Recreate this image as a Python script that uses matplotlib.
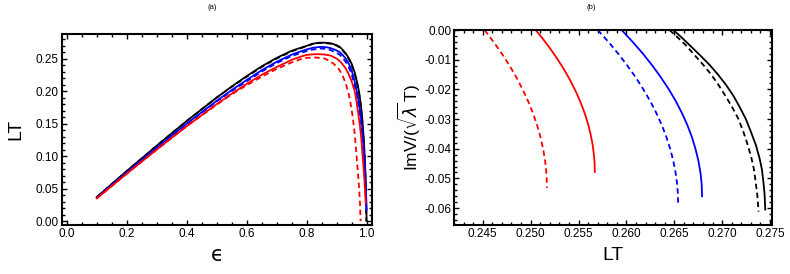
import matplotlib
matplotlib.use("Agg")
import matplotlib.pyplot as plt
from matplotlib.ticker import MultipleLocator, FormatStrFormatter

plt.rcParams['font.family'] = ['Liberation Sans', 'DejaVu Sans']
plt.rcParams['mathtext.fontset'] = 'dejavusans'

# ---------- panel (a): LT vs epsilon ----------
eps_black = [0.1, 0.2, 0.3, 0.4, 0.5, 0.55, 0.6, 0.65, 0.7, 0.75, 0.78, 0.8, 0.82, 0.84, 0.855, 0.87, 0.88, 0.9, 0.91, 0.92, 0.93, 0.94, 0.95, 0.96, 0.965, 0.97, 0.975, 0.98, 0.985, 0.99, 0.993, 0.995, 0.997, 0.998, 0.999, 1.0]
lt_black = [0.037, 0.077, 0.116, 0.154, 0.190, 0.207, 0.223, 0.238, 0.251, 0.262, 0.2665, 0.2695, 0.2728, 0.2743, 0.2745, 0.274, 0.2735, 0.2705, 0.268, 0.2635, 0.258, 0.251, 0.242, 0.229, 0.220, 0.210, 0.198, 0.182, 0.160, 0.130, 0.105, 0.085, 0.060, 0.040, 0.020, 0.0]

eps_black_d = [0.1, 0.2, 0.3, 0.4, 0.5, 0.55, 0.6, 0.65, 0.7, 0.75, 0.78, 0.8, 0.82, 0.84, 0.86, 0.88, 0.9, 0.91, 0.92, 0.93, 0.94, 0.95, 0.96, 0.965, 0.97, 0.975, 0.98, 0.985, 0.99, 0.993, 0.995, 0.997, 0.998, 0.999]
lt_black_d = [0.037, 0.077, 0.116, 0.154, 0.190, 0.2065, 0.222, 0.237, 0.250, 0.261, 0.266, 0.269, 0.2725, 0.2739, 0.2738, 0.2728, 0.2698, 0.267, 0.2625, 0.257, 0.2495, 0.240, 0.227, 0.218, 0.207, 0.195, 0.178, 0.156, 0.126, 0.102, 0.080, 0.055, 0.035, 0.0]

eps_blue = [0.1, 0.2, 0.3, 0.4, 0.5, 0.55, 0.6, 0.65, 0.7, 0.75, 0.78, 0.8, 0.82, 0.845, 0.865, 0.88, 0.895, 0.91, 0.92, 0.93, 0.94, 0.95, 0.96, 0.965, 0.97, 0.975, 0.98, 0.985, 0.99, 0.993, 0.995, 0.998, 1.0]
lt_blue = [0.036, 0.075, 0.113, 0.150, 0.185, 0.2015, 0.217, 0.232, 0.245, 0.256, 0.261, 0.264, 0.2665, 0.2679, 0.2675, 0.266, 0.2635, 0.260, 0.2555, 0.250, 0.2425, 0.232, 0.2155, 0.205, 0.193, 0.180, 0.164, 0.145, 0.115, 0.093, 0.075, 0.045, 0.017]

eps_blue_d = [0.1, 0.2, 0.3, 0.4, 0.5, 0.55, 0.6, 0.65, 0.7, 0.75, 0.78, 0.8, 0.82, 0.845, 0.865, 0.88, 0.895, 0.91, 0.92, 0.93, 0.94, 0.95, 0.96, 0.965, 0.97, 0.975, 0.98, 0.985, 0.99, 0.993, 0.995, 0.997, 0.998]
lt_blue_d = [0.036, 0.075, 0.113, 0.149, 0.184, 0.200, 0.215, 0.230, 0.243, 0.254, 0.2585, 0.2615, 0.2638, 0.2654, 0.2650, 0.263, 0.260, 0.256, 0.251, 0.245, 0.237, 0.226, 0.208, 0.198, 0.185, 0.170, 0.152, 0.130, 0.100, 0.080, 0.060, 0.035, 0.020]

eps_red = [0.1, 0.2, 0.3, 0.4, 0.5, 0.55, 0.6, 0.65, 0.7, 0.75, 0.78, 0.8, 0.82, 0.84, 0.86, 0.88, 0.9, 0.915, 0.93, 0.94, 0.95, 0.96, 0.965, 0.97, 0.975, 0.978, 0.982, 0.985, 0.99, 0.993, 0.995, 0.997]
lt_red = [0.035, 0.073, 0.110, 0.146, 0.180, 0.196, 0.211, 0.225, 0.237, 0.248, 0.253, 0.2555, 0.2565, 0.2567, 0.2562, 0.2545, 0.250, 0.244, 0.235, 0.226, 0.215, 0.200, 0.188, 0.172, 0.156, 0.145, 0.128, 0.110, 0.080, 0.060, 0.045, 0.027]

eps_red_d = [0.1, 0.2, 0.3, 0.4, 0.5, 0.55, 0.6, 0.65, 0.7, 0.75, 0.78, 0.8, 0.83, 0.86, 0.875, 0.89, 0.9, 0.91, 0.92, 0.93, 0.94, 0.945, 0.95, 0.955, 0.96, 0.964, 0.967, 0.97, 0.975, 0.978, 0.98]
lt_red_d = [0.035, 0.073, 0.110, 0.146, 0.179, 0.195, 0.209, 0.222, 0.234, 0.244, 0.249, 0.251, 0.2517, 0.250, 0.2465, 0.242, 0.2375, 0.232, 0.2235, 0.212, 0.196, 0.185, 0.171, 0.155, 0.135, 0.114, 0.097, 0.080, 0.050, 0.025, 0.0]

# ---------- panel (b): ImV/(sqrt(lambda) T) vs LT ----------
lt_b_red_d = [0.24519, 0.24613, 0.24700, 0.24780, 0.24852, 0.24916, 0.24974, 0.25024, 0.25067, 0.25102, 0.25130, 0.25151, 0.25164, 0.25168, 0.2517]
im_b_red_d = [0.0, -0.004, -0.008, -0.012, -0.016, -0.020, -0.024, -0.028, -0.032, -0.036, -0.040, -0.044, -0.048, -0.0505, -0.0532]

lt_b_red = [0.25053, 0.25128, 0.25203, 0.25274, 0.25341, 0.25411, 0.25473, 0.25523, 0.25565, 0.25601, 0.25628, 0.25648, 0.25661, 0.25668, 0.2567]
im_b_red = [0.0, -0.003, -0.0062, -0.0095, -0.0129, -0.0168, -0.0208, -0.0245, -0.0281, -0.0318, -0.0354, -0.0388, -0.0421, -0.045, -0.0478]

lt_b_blue_d = [0.25701, 0.25812, 0.25915, 0.26010, 0.26098, 0.26177, 0.26249, 0.26313, 0.26369, 0.26417, 0.26457, 0.26489, 0.26513, 0.26530, 0.26537, 0.2654]
im_b_blue_d = [0.0, -0.004, -0.008, -0.012, -0.016, -0.020, -0.024, -0.028, -0.032, -0.036, -0.040, -0.044, -0.048, -0.052, -0.055, -0.0584]

lt_b_blue = [0.25950, 0.26065, 0.26173, 0.26271, 0.26361, 0.26443, 0.26516, 0.26580, 0.26636, 0.26683, 0.26721, 0.26751, 0.26773, 0.26786, 0.2679]
im_b_blue = [0.0, -0.004, -0.008, -0.012, -0.016, -0.020, -0.024, -0.028, -0.032, -0.036, -0.040, -0.044, -0.048, -0.052, -0.056]

lt_b_black_d = [0.2645, 0.26535, 0.2662, 0.26713, 0.26804, 0.26885, 0.26961, 0.27040, 0.27111, 0.27170, 0.27221, 0.27268, 0.27306, 0.27332, 0.27349, 0.27368, 0.2738]
im_b_black_d = [0.0, -0.0025, -0.0051, -0.0085, -0.0118, -0.015, -0.0185, -0.0225, -0.0264, -0.030, -0.0343, -0.0388, -0.0432, -0.047, -0.0511, -0.056, -0.0612]

lt_b_black = [0.2649, 0.26576, 0.2666, 0.26769, 0.2687, 0.26956, 0.2704, 0.27114, 0.2718, 0.27247, 0.2730, 0.27352, 0.2739, 0.27415, 0.2743, 0.27443, 0.2745]
im_b_black = [0.0, -0.0025, -0.0051, -0.0085, -0.0118, -0.015, -0.0185, -0.022, -0.0258, -0.030, -0.0343, -0.0388, -0.0432, -0.047, -0.0511, -0.0555, -0.0605]

fig = plt.figure(figsize=(7.9, 2.74), dpi=100)
ax1 = fig.add_axes([0.0781, 0.1788, 0.3932, 0.697])
ax2 = fig.add_axes([0.5747, 0.1788, 0.4025, 0.7117])

lw = 1.3
dash = (0, (3.0, 2.0))

ax1.plot(eps_black, lt_black, color='black', lw=lw)
ax1.plot(eps_black_d, lt_black_d, color='black', lw=lw, linestyle=dash)
ax1.plot(eps_blue_d, lt_blue_d, color='blue', lw=lw, linestyle=dash)
ax1.plot(eps_blue, lt_blue, color='blue', lw=lw)
ax1.plot(eps_red_d, lt_red_d, color='red', lw=lw, linestyle=dash)
ax1.plot(eps_red, lt_red, color='red', lw=lw)

ax2.plot(lt_b_red_d, im_b_red_d, color='red', lw=lw, linestyle=dash)
ax2.plot(lt_b_red, im_b_red, color='red', lw=lw)
ax2.plot(lt_b_blue_d, im_b_blue_d, color='blue', lw=lw, linestyle=dash)
ax2.plot(lt_b_blue, im_b_blue, color='blue', lw=lw)
ax2.plot(lt_b_black_d, im_b_black_d, color='black', lw=lw, linestyle=dash)
ax2.plot(lt_b_black, im_b_black, color='black', lw=lw)

ax1.set_xlim(-0.017, 1.019)
ax1.set_ylim(-0.006, 0.2877)
ax1.xaxis.set_major_locator(MultipleLocator(0.2))
ax1.xaxis.set_minor_locator(MultipleLocator(0.05))
ax1.yaxis.set_major_locator(MultipleLocator(0.05))
ax1.yaxis.set_minor_locator(MultipleLocator(0.01))
ax1.xaxis.set_major_formatter(FormatStrFormatter('%.1f'))
ax1.yaxis.set_major_formatter(FormatStrFormatter('%.2f'))

ax2.set_xlim(0.2420, 0.2752)
ax2.set_ylim(-0.0657, 0.0)
ax2.xaxis.set_major_locator(MultipleLocator(0.005))
ax2.xaxis.set_minor_locator(MultipleLocator(0.001))
ax2.yaxis.set_major_locator(MultipleLocator(0.01))
ax2.yaxis.set_minor_locator(MultipleLocator(0.002))
ax2.xaxis.set_major_formatter(FormatStrFormatter('%.3f'))
ax2.yaxis.set_major_formatter(FormatStrFormatter('%.2f'))

for ax in (ax1, ax2):
    for s in ax.spines.values():
        s.set_linewidth(1.5)
    ax.tick_params(which='both', direction='in', top=True, right=True,
                   labelsize=8.5, width=1.0, pad=2)
    ax.tick_params(which='major', length=3.5)
    ax.tick_params(which='minor', length=2)

ax1.set_xlabel('ϵ', fontsize=15, labelpad=4, family=['DejaVu Sans'])
ax1.set_ylabel('LT', fontsize=14, labelpad=8)
ax2.set_xlabel('LT', fontsize=14, labelpad=5)
ax2.set_ylabel(r'ImV/($\sqrt{\lambda}\,$T)', fontsize=12.5, labelpad=1)

fig.text(0.268, 0.985, '(a)', ha='center', va='top', fontsize=5.5)
fig.text(0.748, 0.985, '(b)', ha='center', va='top', fontsize=5.5)

fig.savefig('out.png', dpi=100)
